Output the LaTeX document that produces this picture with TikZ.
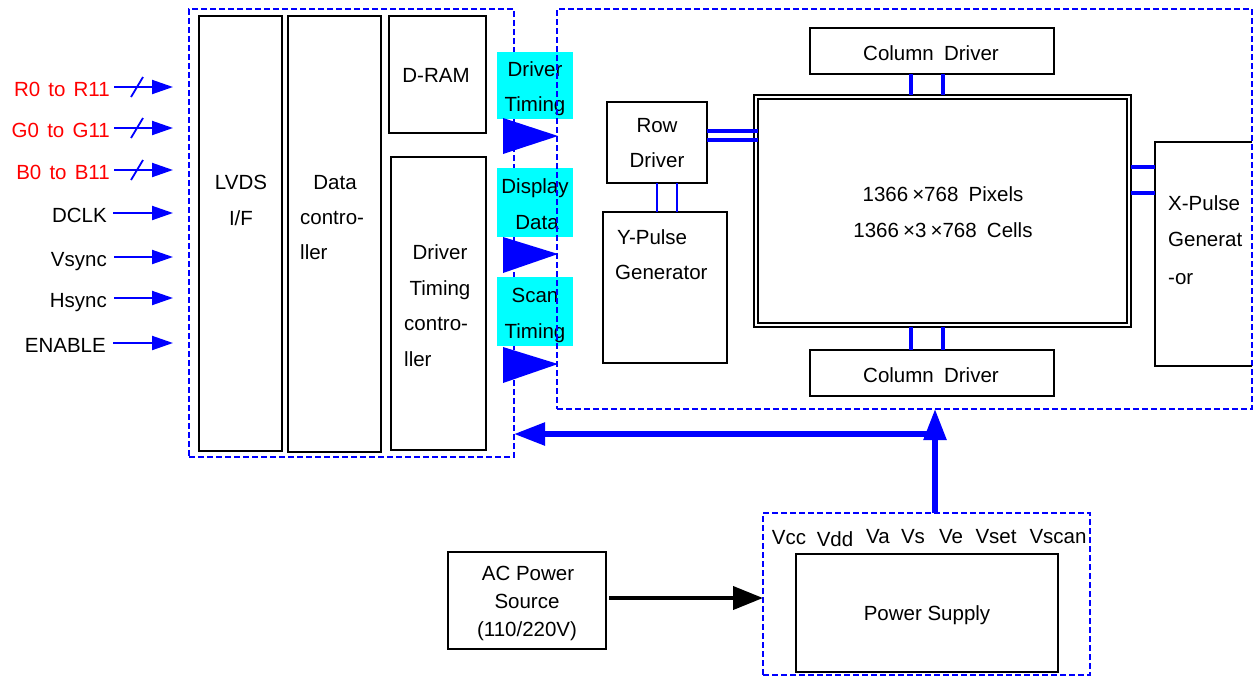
\documentclass[tikz,border=0pt]{standalone}
\usepackage{fontspec}
\setmainfont{Liberation Sans}
\usetikzlibrary{arrows.meta}
\definecolor{aqua}{RGB}{0,255,255}
\begin{document}
\begin{tikzpicture}[x=1pt,y=-1pt,
  box/.style={draw=black, line width=1.5pt, inner sep=0pt, outer sep=0pt},
  grp/.style={draw=blue, line width=1.4pt, dash pattern=on 6pt off 3pt, inner sep=0pt, outer sep=0pt},
  lbl/.style={font=\fontsize{20.5}{35}\selectfont, inner sep=0pt, anchor=base},
  lblw/.style={lbl, anchor=base west},
  lble/.style={lbl, anchor=base east},
  cyanbox/.style={fill=aqua, inner sep=0pt, outer sep=0pt, minimum width=76pt},
  bus/.style={draw=blue, line width=4pt},
  thinbus/.style={draw=blue, line width=2.2pt},
  inarrow/.style={draw=blue, line width=2pt, shorten >=16pt, -{Triangle[length=21pt,width=14pt]}},
  bigarrow/.style={draw=blue, line width=5.5pt, -{Triangle[length=31pt,width=22pt]}},
  acarrow/.style={draw=black, line width=4pt, -{Triangle[length=30pt,width=23pt]}},
]
\useasboundingbox (0,0) rectangle (1255,678);

% ---------- left group ----------
\node (ctrl) [grp, minimum width=325pt, minimum height=448pt] at (351.5,233) {};
\node (lvds) [box, minimum width=83pt, minimum height=435pt] at (240.5,233.5) {};
\node (datac) [box, minimum width=93pt, minimum height=436pt] at (334.5,234) {};
\node (dram) [box, minimum width=97pt, minimum height=117pt] at (437.5,74.5) {};
\node (dtc) [box, minimum width=95pt, minimum height=293pt] at (438.5,303.5) {};

\node (t-lvds1) [lbl] at (241,189) {LVDS};
\node (t-lvds2) [lbl] at (241,225) {I/F};
\node (t-dc1) [lbl] at (335,189) {Data};
\node (t-dc2) [lblw] at (300,224) {contro-};
\node (t-dc3) [lblw] at (300,259) {ller};
\node (t-dram) [lbl] at (436,82) {D-RAM};
\node (t-dtc1) [lbl] at (440,259) {Driver};
\node (t-dtc2) [lbl] at (440,295) {Timing};
\node (t-dtc3) [lblw] at (404,330) {contro-};
\node (t-dtc4) [lblw] at (404,366) {ller};

% ---------- inputs ----------
\node (lR) [lble, text=red] at (110,96) {R0\hspace{0.4em}to\hspace{0.4em}R11};
\node (lG) [lble, text=red] at (110,137) {G0\hspace{0.4em}to\hspace{0.4em}G11};
\node (lB) [lble, text=red] at (110,179) {B0\hspace{0.4em}to\hspace{0.4em}B11};
\node (lD) [lble] at (107,222) {DCLK};
\node (lV) [lble] at (107,266) {Vsync};
\node (lH) [lble] at (107,307) {Hsync};
\node (lE) [lble] at (106,352) {ENABLE};

\foreach \n/\dx in {lR/4,lG/4,lB/4,lD/6,lV/7,lH/7,lE/7}{
  \draw[inarrow] ([shift={(\dx,-9)}]\n.base east) coordinate (s-\n) -- (s-\n -| ctrl.west);
}
\foreach \n in {lR,lG,lB}{
  \draw[blue, line width=1.8pt] ([shift={(17,10)}]s-\n) -- ([shift={(29,-10)}]s-\n);
}

% ---------- cyan labels and triangles ----------
\node (cy1) [cyanbox, minimum height=67pt] at (535,85.5) {};
\node (cy2) [cyanbox, minimum height=69pt] at (535,202.5) {};
\node (cy3) [cyanbox, minimum height=69pt] at (535,311.5) {};
\node (t-cy1a) [lbl] at (535,76) {Driver};
\node (t-cy1b) [lbl] at (535,111) {Timing};
\node (t-cy2a) [lbl] at (535,193) {Display};
\node (t-cy2b) [lbl] at (537,229) {Data};
\node (t-cy3a) [lbl] at (535,302) {Scan};
\node (t-cy3b) [lbl] at (535,338) {Timing};

\fill[blue] (503,118) -- (503,154) -- (558,136) -- cycle;
\fill[blue] (503,237) -- (503,273) -- (558,254) -- cycle;
\fill[blue] (503,347) -- (503,383) -- (558,364) -- cycle;

% ---------- right group ----------
\node (rgrp) [grp, minimum width=695pt, minimum height=400pt] at (904.5,209) {};
\node (coltop) [box, minimum width=244pt, minimum height=46pt] at (932,51) {};
\node (colbot) [box, minimum width=244pt, minimum height=46pt] at (932,373) {};
\node (panelout) [box, line width=1.2pt, minimum width=377pt, minimum height=232pt] at (942.5,211) {};
\node (panelin) [box, line width=2pt, minimum width=369pt, minimum height=224pt] at (942.5,211) {};
\node (rowdrv) [box, minimum width=100pt, minimum height=81pt] at (657,142.5) {};
\node (ypulse) [box, minimum width=124pt, minimum height=151pt] at (665,287.5) {};
\node (xpulse) [inner sep=0pt, outer sep=0pt, minimum width=97pt, minimum height=224pt] at (1203.5,254) {};
\draw[line width=1.5pt] (xpulse.north east) -- (xpulse.north west) -- (xpulse.south west) -- (xpulse.south east);

\node (t-ct) [lbl] at (931,60) {Column\hspace{0.5em}Driver};
\node (t-cb) [lbl] at (931,382) {Column\hspace{0.5em}Driver};
\node (t-p1) [lbl] at (943,201) {1366\hspace{0.2em}×768\hspace{0.5em}Pixels};
\node (t-p2) [lbl] at (943,237) {1366\hspace{0.2em}×3\hspace{0.2em}×768\hspace{0.5em}Cells};
\node (t-rd1) [lbl] at (657,132) {Row};
\node (t-rd2) [lbl] at (657,167) {Driver};
\node (t-yp1) [lblw] at (617,244) {Y-Pulse};
\node (t-yp2) [lblw] at (615,279) {Generator};
\node (t-xp1) [lblw] at (1168,210) {X-Pulse};
\node (t-xp2) [lblw] at (1168,246) {Generat};
\node (t-xp3) [lblw] at (1168,284) {-or};

% buses
\coordinate (cx1) at (911,0);
\coordinate (cx2) at (943,0);
\coordinate (rb1) at (0,131);
\coordinate (rb2) at (0,140);
\coordinate (yv1) at (657,0);
\coordinate (yv2) at (677,0);
\coordinate (xb1) at (0,167);
\coordinate (xb2) at (0,193);
\foreach \c in {cx1,cx2}{
  \draw[bus] (coltop.south -| \c) -- (panelout.north -| \c);
  \draw[bus] (panelout.south -| \c) -- (colbot.north -| \c);
}
\foreach \c in {rb1,rb2}{
  \draw[bus] (rowdrv.east |- \c) -- (panelin.west |- \c);
}
\foreach \c in {yv1,yv2}{
  \draw[thinbus] (rowdrv.south -| \c) -- (ypulse.north -| \c);
}
\foreach \c in {xb1,xb2}{
  \draw[bus] (panelout.east |- \c) -- (xpulse.west |- \c);
}

% ---------- power ----------
\node (pgrp) [grp, minimum width=327pt, minimum height=162pt] at (926.5,594) {};
\node (psu) [box, minimum width=262pt, minimum height=118pt] at (927,613) {};
\node (t-psu) [lbl] at (927,620) {Power Supply};
\node (v1) [lbl] at (789,544) {Vcc};
\node (v2) [lbl] at (835,546) {Vdd};
\node (v3) [lbl] at (878,543) {Va};
\node (v4) [lbl] at (913,543) {Vs};
\node (v5) [lbl] at (951,543) {Ve};
\node (v6) [lbl] at (996,543) {Vset};
\node (v7) [lbl] at (1058,543) {Vscan};

\node (ac) [box, minimum width=158pt, minimum height=97pt] at (527,600.5) {};
\node (t-ac1) [lbl] at (528,580) {AC Power};
\node (t-ac2) [lbl] at (527,608) {Source};
\node (t-ac3) [lbl] at (527,636) {(110/220V)};

\coordinate (acy) at (0,598);
\draw[acarrow] ([xshift=3pt]ac.east |- acy) -- (pgrp.west |- acy);

\coordinate (jx) at (935,434);
\draw[bigarrow] (pgrp.north -| jx) -- (rgrp.south -| jx);
\draw[bigarrow] (jx) -- (ctrl.east |- jx);
\end{tikzpicture}
\end{document}
